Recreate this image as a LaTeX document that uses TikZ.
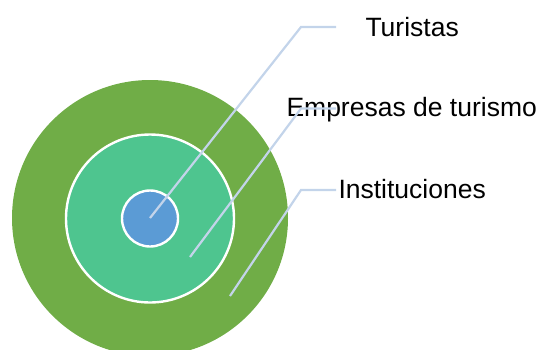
\documentclass[tikz,border=0pt]{standalone}
\usepackage{fontspec}
\setmainfont{Liberation Sans}
\definecolor{outerg}{HTML}{70AD47}
\definecolor{midg}{HTML}{4EC58F}
\definecolor{innerb}{HTML}{5B9BD5}
\definecolor{leader}{HTML}{C3D4EA}
\tikzset{
  ring/.style={circle,inner sep=0pt,outer sep=0pt,line width=2.4pt},
  leaderline/.style={draw=leader,line width=2.2pt},
  lbl/.style={inner sep=0pt,outer sep=0pt,anchor=base west,text=black,font=\fontsize{26.5}{30}\selectfont}
}
\begin{document}
\begin{tikzpicture}[x=1pt,y=-1pt]
\useasboundingbox (0,0) rectangle (541,349);
\clip (0,0) rectangle (541,349);
\node[ring,fill=outerg,minimum size=276pt] (outer) at (150,218) {};
\node[ring,fill=midg,draw=white,minimum size=168pt] (mid) at (150,218.5) {};
\node[ring,fill=innerb,draw=white,minimum size=56pt] (inner) at (150,218.5) {};
\node[lbl] (tur) at (365.5,36) {Turistas};
\node[lbl] (emp) at (286.5,116.5) {Empresas de turismo};
\node[lbl] (ins) at (338.5,198) {Instituciones};
\coordinate (a1) at (150,218);
\coordinate (a2) at (301,27);
\coordinate (a3) at (336,27);
\coordinate (b1) at (190,257);
\coordinate (b2) at (301,108.5);
\coordinate (b3) at (336,108.5);
\coordinate (c1) at (230,296);
\coordinate (c2) at (301,190);
\coordinate (c3) at (336,190);
\draw[leaderline] (a1) -- (a2) -- (a3);
\draw[leaderline] (b1) -- (b2) -- (b3);
\draw[leaderline] (c1) -- (c2) -- (c3);
\end{tikzpicture}
\end{document}
